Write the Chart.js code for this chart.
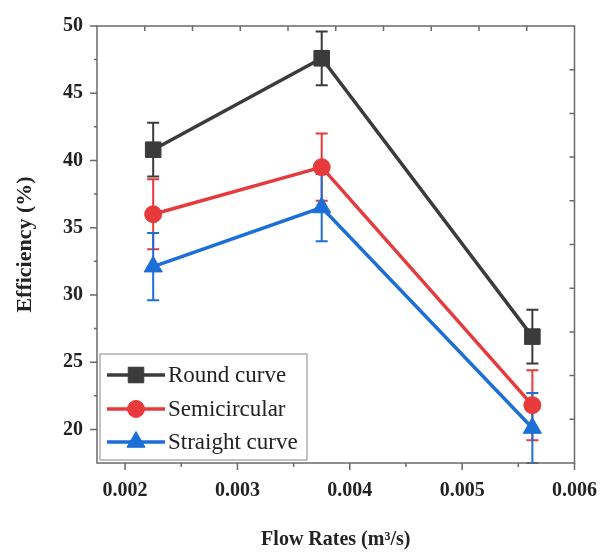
<!DOCTYPE html>
<html><head><meta charset="utf-8">
<script src="https://cdn.jsdelivr.net/npm/chart.js@4/dist/chart.umd.min.js"></script>
<style>html,body{margin:0;padding:0;background:#fff}#wrap{position:relative;width:613px;height:553px}</style>
</head><body><div id="wrap"><canvas id="c" width="613" height="553"></canvas></div>
<script>
const flowRates = [0.00225, 0.00375, 0.005625];
const roundCurve = [40.8, 47.6, 26.9];
const roundErr = [2.0, 2.0, 2.0];
const semicircular = [36.0, 39.5, 21.8];
const semiErr = [2.6, 2.5, 2.6];
const straightCurve = [32.1, 36.5, 20.1];
const straightErr = [2.5, 2.5, 2.6];
const xTicks = [0.002, 0.003, 0.004, 0.005, 0.006];
const yTicks = [20, 25, 30, 35, 40, 45, 50];
const seriesNames = ['Round curve', 'Semicircular', 'Straight curve'];
const colors = ['#3b3b3b', '#e63a3c', '#1d6fd8'];
const styles = ['rect', 'circle', 'triangle'];
const radii = [11, 8.5, 10.5];

const AXIS = '#6a6a6a';
const SERIF = '"Liberation Serif", "DejaVu Serif", serif';

function mkData(ys, errs) { return flowRates.map((x, i) => ({x: x, y: ys[i], e: errs[i]})); }
const allY = [roundCurve, semicircular, straightCurve];
const allE = [roundErr, semiErr, straightErr];

const datasets = seriesNames.map((n, k) => ({
  label: n,
  data: mkData(allY[k], allE[k]),
  showLine: true,
  borderColor: colors[k],
  backgroundColor: colors[k],
  borderWidth: 3.5,
  tension: 0,
  pointStyle: styles[k],
  pointRadius: radii[k],
  pointHoverRadius: radii[k],
  pointBorderWidth: 1,
  pointBorderColor: colors[k],
  pointBackgroundColor: colors[k],
  clip: false
}));

const deco = {
  id: 'deco',
  beforeDatasetsDraw(chart) {
    const ctx = chart.ctx, a = chart.chartArea;
    const xs = chart.scales.x, ys = chart.scales.y;
    ctx.save();
    ctx.beginPath(); ctx.rect(a.left, a.top, a.right - a.left, a.bottom - a.top + 1); ctx.clip();
    chart.data.datasets.forEach((ds, k) => {
      ctx.strokeStyle = ds.borderColor; ctx.lineWidth = 2;
      ds.data.forEach(p => {
        const px = xs.getPixelForValue(p.x);
        const t = ys.getPixelForValue(p.y + p.e), b = ys.getPixelForValue(p.y - p.e);
        ctx.beginPath();
        ctx.moveTo(px, t); ctx.lineTo(px, b);
        ctx.moveTo(px - 6, t); ctx.lineTo(px + 6, t);
        ctx.moveTo(px - 6, b); ctx.lineTo(px + 6, b);
        ctx.stroke();
      });
    });
    ctx.restore();
  },
  afterDraw(chart) {
    const ctx = chart.ctx, a = chart.chartArea;
    const xs = chart.scales.x, ys = chart.scales.y;
    ctx.save();
    ctx.strokeStyle = AXIS; ctx.lineWidth = 1.5;
    ctx.strokeRect(a.left, a.top, a.right - a.left, a.bottom - a.top);
    ctx.lineWidth = 1.5;
    ctx.beginPath();
    xTicks.forEach(v => { const p = xs.getPixelForValue(v); ctx.moveTo(p, a.bottom); ctx.lineTo(p, a.bottom + 7); });
    for (let i = 0; i < xTicks.length - 1; i++) {
      const p = xs.getPixelForValue((xTicks[i] + xTicks[i + 1]) / 2); ctx.moveTo(p, a.bottom); ctx.lineTo(p, a.bottom + 4);
    }
    yTicks.forEach(v => { const p = ys.getPixelForValue(v); ctx.moveTo(a.left, p); ctx.lineTo(a.left - 7, p); });
    for (let i = 0; i < yTicks.length - 1; i++) {
      const p = ys.getPixelForValue((yTicks[i] + yTicks[i + 1]) / 2); ctx.moveTo(a.left, p); ctx.lineTo(a.left - 3, p);
    }
    for (let i = 1; i < 10; i++) {
      const px = a.left + (a.right - a.left) * i / 10;
      ctx.moveTo(px, a.top); ctx.lineTo(px, a.top + 5);
      const py = a.top + (a.bottom - a.top) * i / 10;
      ctx.moveTo(a.right, py); ctx.lineTo(a.right - 5, py);
    }
    ctx.stroke();

    const L = {l: a.left + 3, t: 354, r: 307, b: 460};
    ctx.fillStyle = '#fff';
    ctx.fillRect(L.l, L.t, L.r - L.l, L.b - L.t);
    ctx.strokeStyle = '#9a9a9a'; ctx.lineWidth = 1.2;
    ctx.strokeRect(L.l, L.t, L.r - L.l, L.b - L.t);
    const rowsY = [375, 409, 442];
    chart.data.datasets.forEach((ds, k) => {
      const y = rowsY[k];
      ctx.strokeStyle = ds.borderColor; ctx.lineWidth = 3.5;
      ctx.beginPath(); ctx.moveTo(107, y); ctx.lineTo(165, y); ctx.stroke();
      ctx.fillStyle = ds.backgroundColor; ctx.strokeStyle = ds.borderColor; ctx.lineWidth = 1;
      Chart.helpers.drawPoint(ctx, {pointStyle: ds.pointStyle, radius: ds.pointRadius, borderWidth: 1, rotation: 0}, 136, y);
      ctx.fillStyle = '#222';
      ctx.font = '23px ' + SERIF;
      ctx.textBaseline = 'middle'; ctx.textAlign = 'left';
      ctx.fillText(ds.label, 168, y + 1);
    });
    ctx.restore();
  }
};

new Chart(document.getElementById('c'), {
  type: 'scatter',
  data: {datasets: datasets},
  plugins: [deco],
  options: {
    responsive: false,
    animation: false,
    devicePixelRatio: 1,
    layout: {padding: {top: 18, right: 35, left: 0, bottom: 0}},
    plugins: {legend: {display: false}, tooltip: {enabled: false}},
    scales: {
      x: {
        type: 'linear', position: 'bottom', min: 0.00175, max: 0.006,
        afterBuildTicks: s => { s.ticks = xTicks.map(v => ({value: v})); },
        afterFit: s => { s.height = 90; },
        grid: {display: false, drawTicks: false},
        border: {display: false},
        ticks: {font: {family: SERIF, size: 20, weight: 'bold'}, color: '#222', padding: 16, maxRotation: 0,
          callback: v => Number(v).toFixed(3)},
        title: {display: true, text: 'Flow Rates (m³/s)', font: {family: SERIF, size: 20, weight: 'bold'}, color: '#222', padding: {top: 0, bottom: 1}}
      },
      y: {
        type: 'linear', position: 'left', min: 17.5, max: 50,
        afterBuildTicks: s => { s.ticks = yTicks.map(v => ({value: v})); },
        afterFit: s => { s.width = 97; },
        grid: {display: false, drawTicks: false},
        border: {display: false},
        ticks: {font: {family: SERIF, size: 20, weight: 'bold'}, color: '#222', padding: 14,
          callback: v => String(v)},
        title: {display: true, text: 'Efficiency (%)', font: {family: SERIF, size: 22, weight: 'bold'}, color: '#222', padding: {top: 12, bottom: 0}}
      }
    }
  }
});
</script></body></html>
